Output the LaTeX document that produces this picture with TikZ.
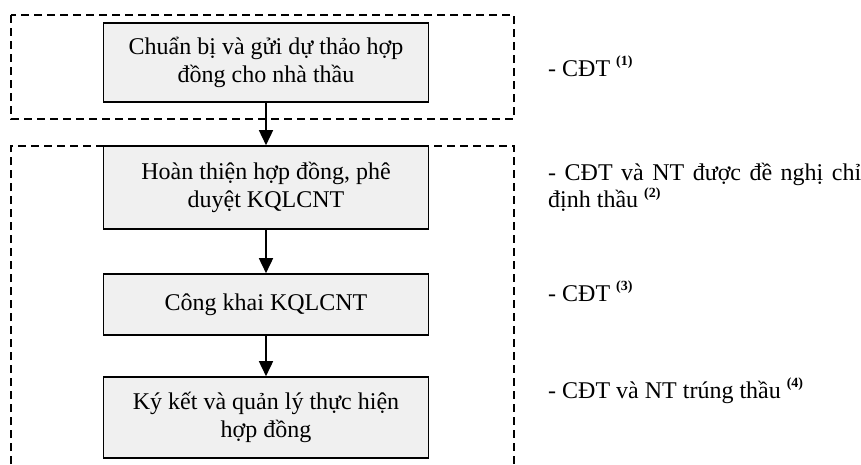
\documentclass[tikz,border=0pt]{standalone}
\usepackage{fontspec}
\setmainfont{Liberation Serif}
\usetikzlibrary{arrows.meta}
\newcommand{\fnum}[1]{\raisebox{0.42em}{\fontsize{14}{14}\selectfont\bfseries(#1)}}
\begin{document}
\begin{tikzpicture}[x=1pt, y=-1pt,
  stepbox/.style={draw, line width=1.6pt, fill=gray!12, minimum width=325pt,
    align=center, inner sep=0pt, font=\fontsize{24}{27.5}\selectfont},
  note/.style={anchor=base west, inner sep=0pt, font=\fontsize{24}{27}\selectfont},
  group/.style={line width=1.6pt, dash pattern=on 8pt off 5pt},
  flow/.style={-{Triangle[length=15pt,width=14pt]}, line width=1.6pt}]
\useasboundingbox (0,0) rectangle (861,464);

% dashed groups
\draw[group] (11,15) rectangle (514,119);
\draw[group] (11,464) -- (11,146) -- (514,146) -- (514,464);

% steps
\node (b1) at (266,62.5) [stepbox, minimum height=79pt] {Chuẩn bị và gửi dự thảo hợp\\đồng cho nhà thầu};
\node (b2) at (266,187.5) [stepbox, minimum height=83pt] {Hoàn thiện hợp đồng, phê\\duyệt KQLCNT};
\node (b3) at (266,304.5) [stepbox, minimum height=61pt] {Công khai KQLCNT};
\node (b4) at (266,417.5) [stepbox, minimum height=81pt] {Ký kết và quản lý thực hiện\\hợp đồng};

\draw[flow] (b1) -- (b2);
\draw[flow] (b2) -- (b3);
\draw[flow] (b3) -- (b4);

% who does it
\node (n1) at (548,76) [note] {- CĐT \fnum{1}};
\node (n2) at (548,163) [note, anchor=north west, text width=313pt, align=justify]
  {- CĐT và NT được đề nghị chỉ\linebreak định thầu \fnum{2}};
\node (n3) at (548,301) [note] {- CĐT \fnum{3}};
\node (n4) at (548,398) [note] {- CĐT và NT trúng thầu \fnum{4}};
\end{tikzpicture}
\end{document}
